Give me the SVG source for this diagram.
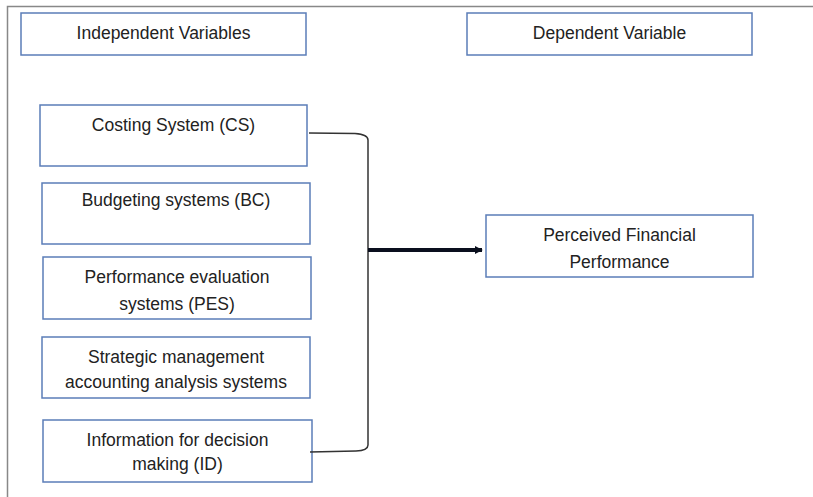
<svg xmlns="http://www.w3.org/2000/svg" width="813" height="497" viewBox="0 0 813 497">
<defs>
<style>
.box{fill:#fff;stroke:#5b7db8;stroke-width:1.5}
.t{font-family:"Liberation Sans",Arial,sans-serif;font-size:17.5px;fill:#222;text-anchor:middle}
.frame{fill:none;stroke:#888;stroke-width:1.5}
.brace{fill:none;stroke:#333;stroke-width:1.5}
.arrow{fill:none;stroke:#0a0f1e;stroke-width:4}
</style>
<marker id="ah" viewBox="0 0 10 10" refX="9" refY="5" markerWidth="2" markerHeight="2.4" orient="auto" markerUnits="strokeWidth">
<path d="M0,0 L10,5 L0,10 z" fill="#0a0f1e"/>
</marker>
</defs>
<rect width="813" height="497" fill="#fff"/>
<path class="frame" d="M7.5,497 V6.5 H813"/>
<g id="independent-header"><rect class="box" x="21" y="13" width="285" height="42"/><text class="t" x="163.5" y="39">Independent Variables</text></g>
<g id="dependent-header"><rect class="box" x="467" y="13" width="285" height="42"/><text class="t" x="609.5" y="39">Dependent Variable</text></g>
<g id="cs"><rect class="box" x="40" y="105" width="267" height="61"/><text class="t" x="173.5" y="131">Costing System (CS)</text></g>
<g id="bc"><rect class="box" x="42" y="183" width="268" height="61"/><text class="t" x="176" y="206">Budgeting systems (BC)</text></g>
<g id="pes"><rect class="box" x="43" y="257" width="268" height="62"/><text class="t" x="177" y="283">Performance evaluation</text><text class="t" x="177" y="310">systems (PES)</text></g>
<g id="smaas"><rect class="box" x="42" y="337" width="268" height="61"/><text class="t" x="176" y="363">Strategic management</text><text class="t" x="176" y="388">accounting analysis systems</text></g>
<g id="id"><rect class="box" x="43" y="420" width="269" height="62"/><text class="t" x="177.5" y="446">Information for decision</text><text class="t" x="177.5" y="470">making (ID)</text></g>
<g id="pfp"><rect class="box" x="486" y="215" width="267" height="62"/><text class="t" x="619.5" y="241">Perceived Financial</text><text class="t" x="619.5" y="268">Performance</text></g>
<g id="connectors">
<path class="brace" d="M309,133 L355,133.5 Q368,134.5 368,140 L368,445 Q368,450.5 356,451 L310,452"/>
<path class="arrow" d="M368,250 L482,250" marker-end="url(#ah)"/>
</g>
</svg>
